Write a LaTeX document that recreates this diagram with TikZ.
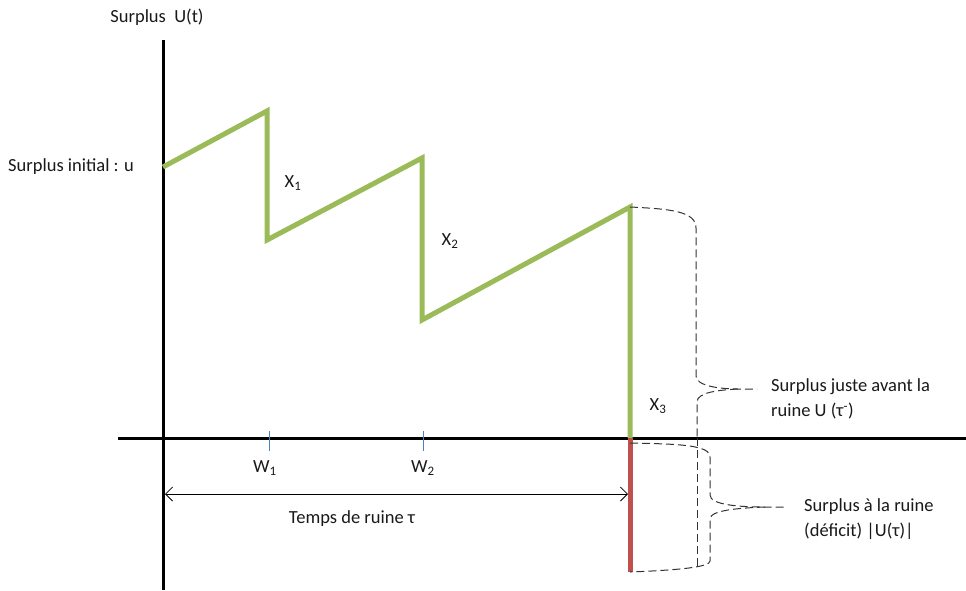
\documentclass[tikz,border=0pt]{standalone}
\usepackage{fontspec}
\setmainfont{Carlito}
\usetikzlibrary{arrows.meta}
\definecolor{ogreen}{RGB}{155,187,89}
\definecolor{ored}{RGB}{192,80,77}
\definecolor{oblue}{RGB}{79,129,189}
\tikzset{
  axisline/.style={line width=3pt, black},
  surplusline/.style={line width=5pt, ogreen, line join=miter},
  deficitline/.style={line width=5pt, ored},
  tickline/.style={line width=0.8pt, oblue},
  braceline/.style={dash pattern=on 8pt off 4pt, line width=1pt, black!80},
  lbl/.style={font=\fontsize{18.5}{22}\selectfont, inner sep=0pt, text=black!90},
  sidelbl/.style={lbl, align=left, anchor=west}
}
\begin{document}
\begin{tikzpicture}[x=1pt,y=-1pt]
\useasboundingbox (0,0) rectangle (966,590);
% axes
\coordinate (ytop) at (163,40);
\coordinate (ybot) at (163,590);
\coordinate (xl) at (118,438);
\coordinate (xr) at (966,438);
\draw[axisline] (ytop) -- (ybot);
\draw[axisline] (xl) -- (xr);
% surplus path
\coordinate (p0) at (163,167);
\coordinate (p1) at (267,111);
\coordinate (p2) at (267,240);
\coordinate (p3) at (422,158);
\coordinate (p4) at (422,320);
\coordinate (p5) at (630,207);
\coordinate (p6) at (630,438);
\coordinate (p7) at (630,572);
\draw[surplusline] (p0) -- (p1) -- (p2) -- (p3) -- (p4) -- (p5) -- (p6);
\draw[deficitline] (p6) -- (p7);
% ticks
\coordinate (w1a) at (269,431);
\coordinate (w1b) at (269,451);
\coordinate (w2a) at (423,431);
\coordinate (w2b) at (423,451);
\draw[tickline] (w1a) -- (w1b);
\draw[tickline] (w2a) -- (w2b);
% labels
\node[lbl] (ylab) at (157,17) {Surplus~ U(t)};
\node[lbl, anchor=west] (ulab) at (8,167) {Surplus initial : u};
\node[lbl] (x1) at (293,183) {X\textsubscript{1}};
\node[lbl] (x2) at (450,241) {X\textsubscript{2}};
\node[lbl] (x3) at (658,406) {X\textsubscript{3}};
\node[lbl] (w1) at (265,468) {W\textsubscript{1}};
\node[lbl] (w2) at (423,468) {W\textsubscript{2}};
% time arrow
\coordinate (ta) at (165,494);
\coordinate (tb) at (628,494);
\draw[line width=0.8pt, {Straight Barb[length=7pt,width=14pt]}-{Straight Barb[length=7pt,width=14pt]}] (ta) -- (tb);
\node[lbl] (tlab) at (352,519) {Temps de ruine τ};
% upper brace
\coordinate (ub0) at (630,207);
\coordinate (ubtip) at (738,389);
\coordinate (ubend) at (757,389);
\draw[braceline] (ub0) .. controls (670,209) and (696,211) .. (696,228)
  -- (696,376) .. controls (696,386) and (720,389) .. (ubtip) -- (ubend);
\draw[braceline] (ubtip) .. controls (720,390) and (697,392) .. (697,402) -- (697,438);
% lower brace
\coordinate (lb0) at (630,443);
\coordinate (lbtip) at (765,507);
\coordinate (lbend) at (785,507);
\coordinate (lb7) at (630,572);
\draw[braceline] (lb0) .. controls (680,444) and (710,445) .. (710,457)
  -- (710,495) .. controls (710,505) and (740,507) .. (lbtip) -- (lbend);
\draw[braceline] (lbtip) .. controls (740,508) and (710,510) .. (710,519)
  -- (710,561) .. controls (710,567) and (680,570) .. (lb7);
\coordinate (vx0) at (697,438);
\coordinate (vx1) at (697,567);
\draw[braceline] (vx0) -- (vx1);
% side labels
\node[sidelbl] (s1) at (771,399) {Surplus juste avant la\\[3pt]ruine U (τ\textsuperscript{-})};
\node[sidelbl] (s2) at (804,519) {Surplus à la ruine\\[3pt](déficit) |U(τ)|};
\end{tikzpicture}
\end{document}
